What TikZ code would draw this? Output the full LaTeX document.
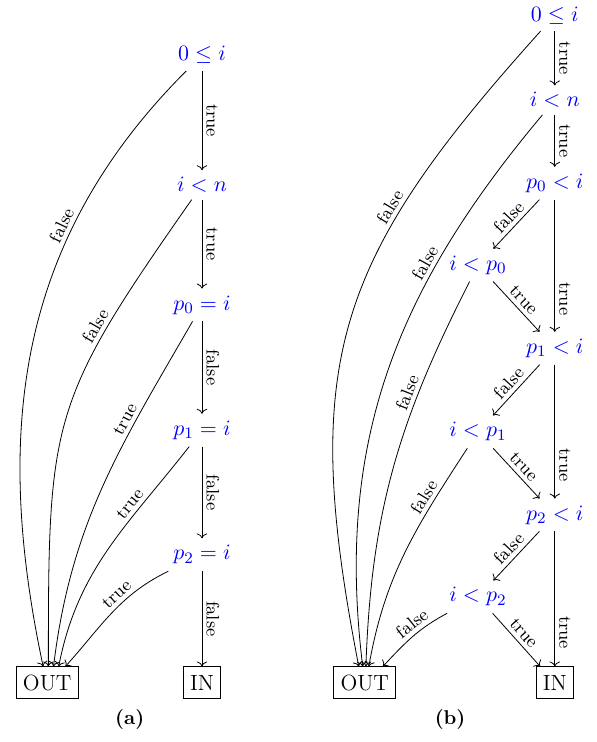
\documentclass[tikz,border=0pt]{standalone}
\usepackage{tikz}
\usetikzlibrary{positioning,arrows.meta}

\begin{document}
\begin{tikzpicture}[
  every node/.style={font=\fontsize{11}{13}\selectfont},
  cond/.style={text=blue},
  term/.style={draw, minimum height=16pt},
  lbl/.style={font=\small, sloped, above, inner sep=2pt}
]
\useasboundingbox (0,0) rectangle (10.49,13.04);

% (a) straight test chain
\node[cond] (a0) at (3.55,12.07) {$0 \le i$};
\node[cond] (a1) at (3.55,9.79) {$i < n$};
\node[cond] (a2) at (3.55,7.68) {$p_0 = i$};
\node[cond] (a3) at (3.55,5.48) {$p_1 = i$};
\node[cond] (a4) at (3.55,3.29) {$p_2 = i$};
\node[term] (aout) at (0.83,1.04) {OUT};
\node[term] (ain) at (3.55,1.04) {IN};
\node[font=\bfseries] (capa) at (2.28,0.39) {(a)};

\draw[->] (a0) -- node[lbl] {true} (a1);
\draw[->] (a1) -- node[lbl] {true} (a2);
\draw[->] (a2) -- node[lbl] {false} (a3);
\draw[->] (a3) -- node[lbl] {false} (a4);
\draw[->] (a4) -- node[lbl] {false} (ain);

\draw[->] (a0) to[out=225, in=102] node[lbl, pos=0.3] {false} (aout.104);
\draw[->] (a1) to[out=235, in=90, looseness=1.3] node[lbl, pos=0.27] {false} (aout.86);
\draw[->] (a2) to[out=240, in=83] node[lbl, pos=0.3] {true} (aout.69);
\draw[->] (a3) to[out=232, in=79] node[lbl, pos=0.3] {true} (aout.55);
\draw[->] (a4) to[out=206, in=48] node[lbl, pos=0.38] {true} (aout.42);

% (b) sorted test chain
\node[cond] (b0) at (9.75,12.77) {$0 \le i$};
\node[cond] (b1) at (9.75,11.28) {$i < n$};
\node[cond] (b2) at (9.75,9.82) {$p_0 < i$};
\node[cond] (b3) at (8.40,8.38) {$i < p_0$};
\node[cond] (b4) at (9.75,6.92) {$p_1 < i$};
\node[cond] (b5) at (8.40,5.45) {$i < p_1$};
\node[cond] (b6) at (9.75,3.99) {$p_2 < i$};
\node[cond] (b7) at (8.40,2.55) {$i < p_2$};
\node[term] (bout) at (6.41,1.04) {OUT};
\node[term] (bin) at (9.75,1.04) {IN};
\node[font=\bfseries] (capb) at (7.91,0.39) {(b)};

\draw[->] (b0) -- node[lbl] {true} (b1);
\draw[->] (b1) -- node[lbl] {true} (b2);
\draw[->] (b2) -- node[lbl] {false} (b3);
\draw[->] (b2) -- node[lbl, pos=0.75] {true} (b4);
\draw[->] (b3) -- node[lbl] {true} (b4);
\draw[->] (b4) -- node[lbl] {false} (b5);
\draw[->] (b4) -- node[lbl, pos=0.75] {true} (b6);
\draw[->] (b5) -- node[lbl] {true} (b6);
\draw[->] (b6) -- node[lbl] {false} (b7);
\draw[->] (b6) -- node[lbl, pos=0.75] {true} (bin);
\draw[->] (b7) -- node[lbl] {true} (bin);

\draw[->] (b0) to[out=228, in=101, looseness=1.2] node[lbl, pos=0.3] {false} (bout.110);
\draw[->] (b1) to[out=230, in=97] node[lbl, pos=0.3] {false} (bout.97);
\draw[->] (b3) to[out=243, in=88] node[lbl, pos=0.3] {false} (bout.86);
\draw[->] (b5) to[out=237, in=80] node[lbl, pos=0.25] {false} (bout.76);
\draw[->] (b7) to[out=208, in=47] node[lbl, pos=0.4] {false} (bout.42);
\end{tikzpicture}
\end{document}
